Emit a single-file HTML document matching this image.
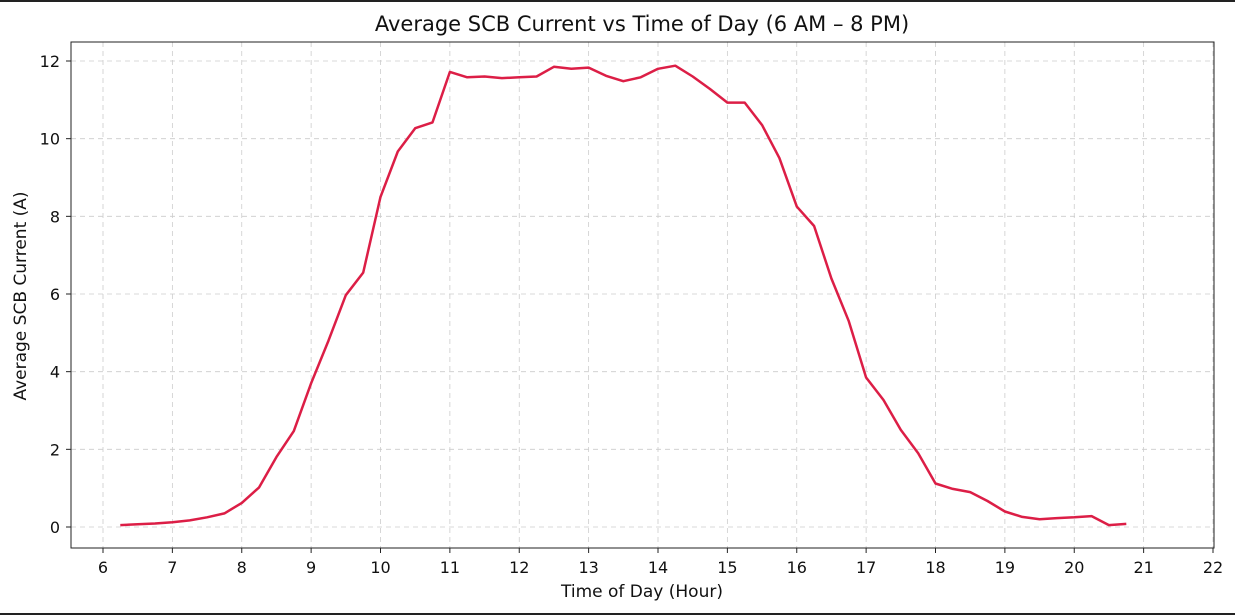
<!DOCTYPE html>
<html><head><meta charset="utf-8"><style>
body{margin:0;background:#fff;}
svg{display:block;font-family:"DejaVu Sans","Liberation Sans",sans-serif;}
</style></head><body>
<svg id="chart" width="1235" height="615">
<rect x="0" y="0" width="1235" height="2" fill="#222"/>
<rect x="0" y="613" width="1235" height="2" fill="#222"/>
<text x="642" y="31" text-anchor="middle" font-size="21" fill="#111">Average SCB Current vs Time of Day (6 AM – 8 PM)</text>
<g id="grid"></g><g id="ticks"></g>
<rect x="71" y="42" width="1143" height="506" fill="none" stroke="#222" stroke-width="1"/>
<path id="line" fill="none" stroke="#dc1e46" stroke-width="2.5" stroke-linejoin="round"/>
<text x="642" y="597" text-anchor="middle" font-size="17" fill="#111">Time of Day (Hour)</text>
<text transform="translate(26,296) rotate(-90)" text-anchor="middle" font-size="17" fill="#111">Average SCB Current (A)</text>
</svg>
<script>
const hours=[6.25,6.5,6.75,7,7.25,7.5,7.75,8,8.25,8.5,8.75,9,9.25,9.5,9.75,10,10.25,10.5,10.75,11,11.25,11.5,11.75,12,12.25,12.5,12.75,13,13.25,13.5,13.75,14,14.25,14.5,14.75,15,15.25,15.5,15.75,16,16.25,16.5,16.75,17,17.25,17.5,17.75,18,18.25,18.5,18.75,19,19.25,19.5,19.75,20,20.25,20.5,20.75];
const current=[0.05,0.07,0.09,0.12,0.17,0.25,0.35,0.62,1.02,1.8,2.47,3.7,4.8,5.97,6.55,8.5,9.67,10.27,10.42,11.72,11.58,11.6,11.56,11.58,11.6,11.85,11.8,11.83,11.62,11.48,11.58,11.8,11.88,11.6,11.28,10.93,10.93,10.35,9.5,8.25,7.75,6.4,5.3,3.85,3.27,2.5,1.9,1.12,0.98,0.9,0.67,0.4,0.26,0.2,0.23,0.25,0.28,0.05,0.08];
const xTicks=[6,7,8,9,10,11,12,13,14,15,16,17,18,19,20,21,22];
const yTicks=[0,2,4,6,8,10,12];
const X=v=>103+(v-6)*69.375;
const Y=v=>527-v*38.833;
const NS='http://www.w3.org/2000/svg';
const grid=document.getElementById('grid'),ticks=document.getElementById('ticks');
function mk(tag,attrs,parent){const e=document.createElementNS(NS,tag);for(const k in attrs)e.setAttribute(k,attrs[k]);parent.appendChild(e);return e;}
xTicks.forEach(t=>{const x=X(t);
 const g=mk('line',{x1:x,x2:x,y1:42,y2:548,stroke:'#ccc','stroke-dasharray':'5,4','stroke-width':0.8},grid);
 
 
 const tk=mk('line',{x1:x,x2:x,y1:548,y2:553,stroke:'#222'},ticks);
 
 
 const l=mk('text',{x:x,y:573,'text-anchor':'middle','font-size':16,fill:'#111'},ticks);l.textContent=t;
 
 
});
yTicks.forEach(t=>{const y=Y(t);
 const g=mk('line',{x1:71,x2:1214,y1:y,y2:y,stroke:'#ccc','stroke-dasharray':'5,4','stroke-width':0.8},grid);
 
 
 const tk=mk('line',{x1:66,x2:71,y1:y,y2:y,stroke:'#222'},ticks);
 
 
 const l=mk('text',{x:60,y:y+6,'text-anchor':'end','font-size':16,fill:'#111'},ticks);l.textContent=t;
 
 
});
document.getElementById('line').setAttribute('d',hours.map((h,i)=>(i?'L':'M')+X(h).toFixed(1)+','+Y(current[i]).toFixed(1)).join(''));
</script>
</body></html>
